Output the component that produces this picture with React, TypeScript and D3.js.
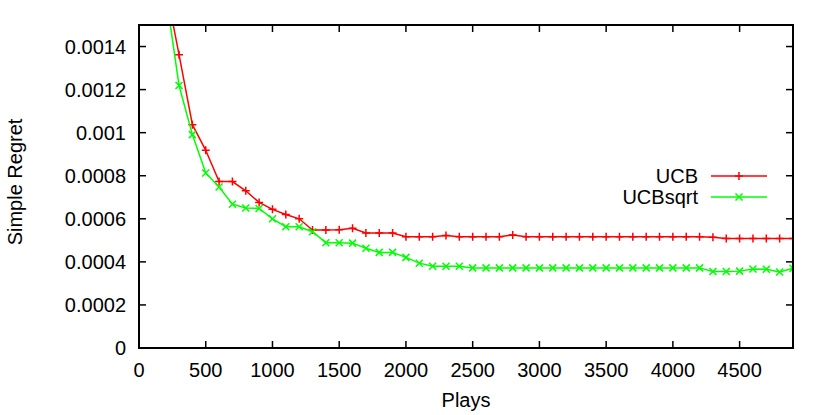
import React from 'react';
import { scaleLinear, line } from 'd3';

// plays (x) for every sample, one every 100 plays
const plays = [
  200, 300, 400, 500, 600, 700, 800, 900, 1000, 1100, 1200, 1300, 1400, 1500, 1600, 1700, 1800, 1900,
  2000, 2100, 2200, 2300, 2400, 2500, 2600, 2700, 2800, 2900, 3000, 3100, 3200, 3300, 3400, 3500,
  3600, 3700, 3800, 3900, 4000, 4100, 4200, 4300, 4400, 4500, 4600, 4700, 4800, 4900,
];

const ucb = [
  0.00168, 0.001362, 0.001037, 0.000918, 0.000773, 0.000773, 0.00073, 0.000676, 0.000644, 0.00062, 0.0006, 0.000548,
  0.000548, 0.000549, 0.000556, 0.000534, 0.000534, 0.000534, 0.000517, 0.000517, 0.000517, 0.000523, 0.000517, 0.000517,
  0.000517, 0.000517, 0.000525, 0.000517, 0.000517, 0.000517, 0.000517, 0.000517, 0.000517, 0.000517, 0.000517, 0.000517,
  0.000517, 0.000517, 0.000517, 0.000517, 0.000517, 0.000514, 0.000508, 0.000508, 0.000508, 0.000508, 0.000508, 0.000508,
];

const ucbSqrt = [
  0.00165, 0.001219, 0.000991, 0.000813, 0.000748, 0.000668, 0.00065, 0.000648, 0.0006, 0.000563, 0.000563, 0.00054,
  0.000489, 0.000489, 0.000487, 0.000463, 0.000444, 0.000444, 0.000421, 0.000394, 0.00038, 0.00038, 0.00038, 0.000372,
  0.000372, 0.000372, 0.000372, 0.000372, 0.000372, 0.000372, 0.000372, 0.000372, 0.000372, 0.000372, 0.000372, 0.000372,
  0.000372, 0.000372, 0.000372, 0.000372, 0.000372, 0.000355, 0.000355, 0.000357, 0.000367, 0.000366, 0.000353, 0.00037,
];

const xTicks = [0, 500, 1000, 1500, 2000, 2500, 3000, 3500, 4000, 4500];
const yTicks = [0, 0.0002, 0.0004, 0.0006, 0.0008, 0.001, 0.0012, 0.0014];
const yTickLabels = ['0', '0.0002', '0.0004', '0.0006', '0.0008', '0.001', '0.0012', '0.0014'];

const FONT = '"Liberation Sans", Arial, Helvetica, sans-serif';

export default function App() {
  const left = 139, right = 793, top = 25, bottom = 348;
  const x = scaleLinear().domain([0, 4900]).range([left, right]);
  const y = scaleLinear().domain([0, 0.0015]).range([bottom, top]);
  const tick = 7;

  const path = line<number>()
    .x((d, i) => x(plays[i]))
    .y(d => y(d));

  const plus = (cx: number, cy: number, k: string) => (
    <path key={k} d={`M${cx - 4},${cy}H${cx + 4}M${cx},${cy - 4}V${cy + 4}`} stroke="#ff0000" strokeWidth={1.5} />
  );
  const cross = (cx: number, cy: number, k: string) => (
    <path key={k} d={`M${cx - 3.5},${cy - 3.5}L${cx + 3.5},${cy + 3.5}M${cx - 3.5},${cy + 3.5}L${cx + 3.5},${cy - 3.5}`} stroke="#00ff00" strokeWidth={1.5} />
  );

  const legendX1 = 711, legendX2 = 767, legendTextX = 698;

  return (
    <svg width={830} height={415} style={{ position: 'absolute', left: 0, top: 0, background: '#fff' }} fontFamily={FONT}>
      <defs>
        <clipPath id="plot-clip">
          <rect x={left} y={top} width={right - left} height={bottom - top} />
        </clipPath>
      </defs>

      {/* data */}
      <g clipPath="url(#plot-clip)">
        <path d={path(ucb) || ''} fill="none" stroke="#ff0000" strokeWidth={1.5} />
        {ucb.map((v, i) => plus(x(plays[i]), y(v), 'u' + i))}
        <path d={path(ucbSqrt) || ''} fill="none" stroke="#00ff00" strokeWidth={1.5} />
        {ucbSqrt.map((v, i) => cross(x(plays[i]), y(v), 's' + i))}
      </g>

      {/* ticks, mirrored on all sides */}
      <g stroke="#000" strokeWidth={1.5}>
        {xTicks.map(t => (
          <g key={'xt' + t}>
            <line x1={x(t)} x2={x(t)} y1={bottom} y2={bottom - tick} />
            <line x1={x(t)} x2={x(t)} y1={top} y2={top + tick} />
          </g>
        ))}
        {yTicks.map(t => (
          <g key={'yt' + t}>
            <line x1={left} x2={left + tick} y1={y(t)} y2={y(t)} />
            <line x1={right} x2={right - tick} y1={y(t)} y2={y(t)} />
          </g>
        ))}
      </g>
      <rect x={left} y={top} width={right - left} height={bottom - top} fill="none" stroke="#000" strokeWidth={2} />

      {/* tick labels */}
      <g fontSize={20} fill="#000">
        {xTicks.map(t => (
          <text key={'xl' + t} x={x(t)} y={377} textAnchor="middle">{t}</text>
        ))}
        {yTicks.map((t, i) => (
          <text key={'yl' + t} x={126} y={y(t)} dy="0.35em" textAnchor="end">{yTickLabels[i]}</text>
        ))}
      </g>

      {/* axis titles */}
      <text x={(left + right) / 2} y={407} textAnchor="middle" fontSize={20}>Plays</text>
      <text transform="translate(22,182) rotate(-90)" textAnchor="middle" fontSize={20}>Simple Regret</text>

      {/* legend */}
      <g fontSize={20}>
        <text x={legendTextX} y={176} dy="0.35em" textAnchor="end">UCB</text>
        <line x1={legendX1} x2={legendX2} y1={176} y2={176} stroke="#ff0000" strokeWidth={1.5} />
        {plus((legendX1 + legendX2) / 2, 176, 'lp')}
        <text x={legendTextX} y={197} dy="0.35em" textAnchor="end">UCBsqrt</text>
        <line x1={legendX1} x2={legendX2} y1={197} y2={197} stroke="#00ff00" strokeWidth={1.5} />
        {cross((legendX1 + legendX2) / 2, 197, 'ls')}
      </g>
    </svg>
  );
}
